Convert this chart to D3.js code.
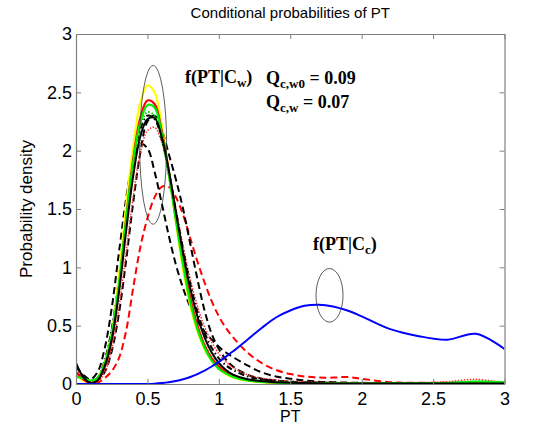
<!DOCTYPE html>
<html><head><meta charset="utf-8">
<script src="https://cdn.jsdelivr.net/npm/d3@7"></script>
<style>body{margin:0;background:#fff}svg{display:block}</style>
</head><body>
<svg id="c" width="543" height="431"></svg>
<script>
const xs = [0,0.05,0.1,0.15,0.2,0.25,0.3,0.35,0.4,0.45,0.5,0.55,0.6,0.65,0.7,0.75,0.8,0.85,0.9,0.95,1.0,1.05,1.1,1.2,1.3,1.4,1.5,1.6,1.7,1.8,1.9,2.0,2.2,2.4,2.6,2.8,3.0];

const yellowSolid = [0.08,0.03,0.01,0.04,0.18,0.42,0.92,1.52,2.03,2.41,2.56,2.5,2.22,1.82,1.38,0.98,0.67,0.45,0.3,0.2,0.13,0.085,0.055,0.028,0.015,0.01,0.008,0.006,0.005,0.005,0.005,0.005,0.004,0.004,0.004,0.006,0.005];
const redSolid = [0.1,0.04,0.01,0.03,0.14,0.38,0.82,1.4,1.92,2.28,2.43,2.4,2.17,1.82,1.42,1.05,0.74,0.5,0.33,0.22,0.15,0.1,0.07,0.035,0.02,0.012,0.008,0.006,0.005,0.005,0.005,0.005,0.004,0.004,0.004,0.005,0.005];
const greenSolid = [0.06,0.05,0.03,0.05,0.17,0.42,0.85,1.4,1.9,2.24,2.39,2.37,2.15,1.8,1.4,1.02,0.7,0.47,0.31,0.2,0.13,0.09,0.06,0.03,0.018,0.012,0.009,0.007,0.006,0.006,0.006,0.006,0.006,0.006,0.008,0.02,0.015];
const greenDotted = [0.08,0.05,0.02,0.05,0.19,0.46,0.9,1.45,1.92,2.22,2.33,2.3,2.1,1.78,1.4,1.04,0.73,0.5,0.34,0.23,0.15,0.1,0.07,0.035,0.02,0.013,0.01,0.008,0.006,0.006,0.006,0.006,0.006,0.006,0.01,0.02,0.015];
const blackSolid = [0.18,0.06,0.01,0.03,0.15,0.38,0.78,1.3,1.78,2.12,2.27,2.28,2.12,1.83,1.47,1.12,0.82,0.58,0.4,0.27,0.18,0.12,0.08,0.04,0.025,0.015,0.01,0.008,0.006,0.005,0.005,0.005,0.004,0.004,0.004,0.004,0.004];
const blackDashDot = [0.15,0.07,0.02,0.05,0.2,0.47,0.9,1.42,1.88,2.18,2.3,2.27,2.1,1.82,1.48,1.15,0.86,0.62,0.44,0.31,0.22,0.16,0.12,0.065,0.04,0.025,0.015,0.012,0.01,0.008,0.007,0.006,0.005,0.005,0.005,0.005,0.005];
const redDotted = [0.12,0.05,0.01,0.02,0.1,0.3,0.65,1.12,1.6,1.98,2.17,2.2,2.07,1.82,1.5,1.18,0.9,0.67,0.49,0.36,0.26,0.19,0.14,0.08,0.05,0.035,0.025,0.02,0.015,0.012,0.01,0.01,0.008,0.01,0.02,0.04,0.01];
const blackDashed1 = [0.15,0.08,0.04,0.1,0.3,0.65,1.12,1.58,1.92,2.06,2.02,1.82,1.55,1.27,1.02,0.82,0.66,0.54,0.45,0.38,0.32,0.27,0.23,0.16,0.1,0.065,0.045,0.03,0.02,0.015,0.012,0.01,0.008,0.006,0.005,0.005,0.005];
const blackDashed2 = [0.1,0.05,0.02,0.03,0.1,0.28,0.6,1.05,1.55,1.98,2.25,2.3,2.18,1.97,1.75,1.5,1.2,0.9,0.63,0.43,0.3,0.21,0.15,0.08,0.045,0.03,0.02,0.015,0.012,0.01,0.008,0.007,0.006,0.005,0.005,0.005,0.005];
const redDashed = [0.08,0.04,0.01,0.01,0.05,0.11,0.22,0.45,0.82,1.17,1.42,1.6,1.69,1.69,1.6,1.45,1.25,1.05,0.87,0.71,0.58,0.48,0.4,0.27,0.18,0.12,0.085,0.065,0.055,0.055,0.06,0.045,0.015,0.01,0.01,0.01,0.005];
const blueSolid = [0,0,0,0,0,0,0,0,0,0,0,0.003,0.008,0.015,0.025,0.04,0.06,0.085,0.115,0.15,0.19,0.235,0.28,0.38,0.48,0.57,0.63,0.67,0.68,0.665,0.63,0.58,0.47,0.41,0.38,0.43,0.3];

const xTicks = [0,0.5,1,1.5,2,2.5,3];
const yTicks = [0,0.5,1,1.5,2,2.5,3];
const xTickLabels = ["0","0.5","1","1.5","2","2.5","3"];
const yTickLabels = ["0","0.5","1","1.5","2","2.5","3"];

const seriesList = [
  {v: redDashed, color:"#ff0000", dash:"7,4", w:2},
  {v: blackDashed1, color:"#000000", dash:"7,4", w:2},
  {v: blackDashed2, color:"#000000", dash:"7,4", w:2},
  {v: redDotted, color:"#ff3030", dash:"1.5,1.5", w:1.5},
  {v: blackDashDot, color:"#000000", dash:"6,3,1.5,3", w:2},
  {v: greenDotted, color:"#00cc00", dash:"1.5,2", w:2},
  {v: yellowSolid, color:"#ffff00", dash:null, w:2.2},
  {v: redSolid, color:"#ff0000", dash:null, w:2.2},
  {v: greenSolid, color:"#00ee00", dash:null, w:2.2},
  {v: blackSolid, color:"#000000", dash:null, w:2},
  {v: blueSolid, color:"#0000ff", dash:null, w:2}
];

const L=76, R=504.5, T=34, B=384;
const svg = d3.select("#c");
const x = d3.scaleLinear().domain([0,3]).range([L,R]);
const y = d3.scaleLinear().domain([0,3]).range([B,T]);

svg.append("clipPath").attr("id","pc").append("rect")
  .attr("x",L).attr("y",T).attr("width",R-L).attr("height",B-T);

const g = svg.append("g").attr("clip-path","url(#pc)");
const line = d3.line().x((d,i)=>x(xs[i])).y(d=>y(d)).curve(d3.curveCatmullRom);
seriesList.forEach(s=>{
  g.append("path").attr("d", line(s.v)).attr("fill","none")
   .attr("stroke", s.color).attr("stroke-width", s.w)
   .attr("stroke-dasharray", s.dash).attr("stroke-linejoin","round");
});

// ellipses
svg.append("ellipse").attr("cx", x(0.54)).attr("cy", y(2.05)).attr("rx",13.5)
   .attr("ry", (y(1.37)-y(2.73))/2).attr("fill","none").attr("stroke","#333").attr("stroke-width",0.8);
svg.append("ellipse").attr("cx", x(1.775)).attr("cy", y(0.76)).attr("rx",13.5)
   .attr("ry", (y(0.53)-y(0.99))/2).attr("fill","none").attr("stroke","#333").attr("stroke-width",0.8);

// axes
const axColor = "#808080";
const fs = "'Liberation Sans', Arial, sans-serif";
const xb = svg.append("g").attr("transform",`translate(0,${B})`)
  .call(d3.axisBottom(x).tickValues(xTicks).tickFormat((d,i)=>xTickLabels[i]).tickSizeInner(-5).tickSizeOuter(0).tickPadding(8));
const yl = svg.append("g").attr("transform",`translate(${L},0)`)
  .call(d3.axisLeft(y).tickValues(yTicks).tickFormat((d,i)=>yTickLabels[i]).tickSizeInner(-5).tickSizeOuter(0).tickPadding(4));
const xt = svg.append("g").attr("transform",`translate(0,${T})`)
  .call(d3.axisTop(x).tickValues(xTicks).tickFormat("").tickSizeInner(-5).tickSizeOuter(0));
const yr = svg.append("g").attr("transform",`translate(${R},0)`)
  .call(d3.axisRight(y).tickValues(yTicks).tickFormat("").tickSizeInner(-5).tickSizeOuter(0));
[xb,yl,xt,yr].forEach(a=>{
  a.selectAll("path.domain").attr("stroke",axColor).attr("stroke-width",1.2);
  a.selectAll(".tick line").attr("stroke",axColor);
  a.selectAll("text").attr("fill","#000").style("font-family",fs).style("font-size","18px");
});

svg.append("text").attr("x",(L+R)/2).attr("y",18).attr("text-anchor","middle")
  .style("font-family",fs).style("font-size","15px").text("Conditional probabilities of PT");
svg.append("text").attr("x",(L+R)/2).attr("y",422).attr("text-anchor","middle")
  .style("font-family",fs).style("font-size","16px").text("PT");
svg.append("text").attr("transform",`translate(32,${(T+B)/2}) rotate(-90)`).attr("text-anchor","middle")
  .style("font-family",fs).style("font-size","17px").text("Probability density");

const serif = "'Liberation Serif','Times New Roman',serif";
function ann(xp, yp, parts){
  const t = svg.append("text").attr("x",xp).attr("y",yp)
    .style("font-family",serif).style("font-weight","bold").style("font-size","18px");
  parts.forEach(p=>{
    const s = t.append("tspan").text(p[0]);
    if(p[1]==="sub") s.attr("dy",4).style("font-size","13px");
    else if(p[1]==="up") s.attr("dy",-4);
  });
}
ann(185, 83, [["f(PT|C"],["w","sub"],[")","up"]]);
ann(266, 84, [["Q"],["c,w0","sub"],[" = 0.09","up"]]);
ann(266, 108, [["Q"],["c,w","sub"],[" = 0.07","up"]]);
ann(313, 250, [["f(PT|C"],["c","sub"],[")","up"]]);
</script>
</body></html>
